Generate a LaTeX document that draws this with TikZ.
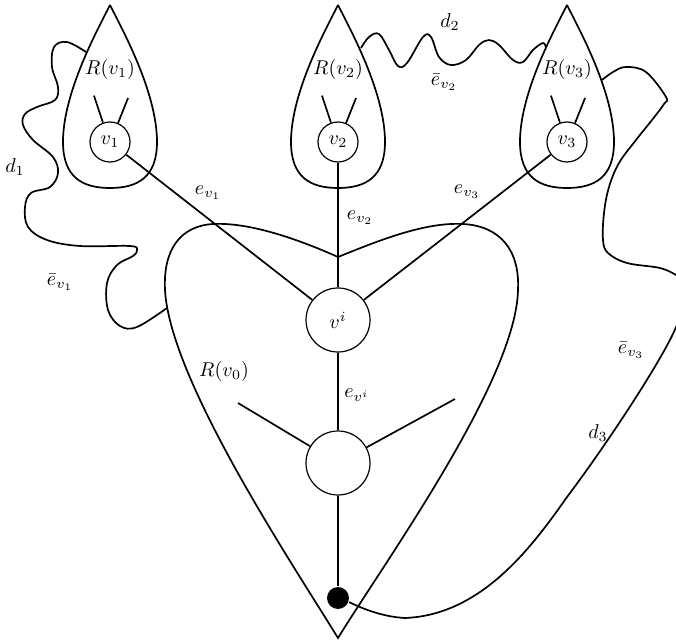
\documentclass[tikz,border=0pt]{standalone}
\usepackage{amsmath}
\usetikzlibrary{calc}

\tikzset{
  vert/.style={draw,circle,line width=0.6pt,inner sep=1pt,minimum size=20pt},
  bigvert/.style={draw,circle,line width=0.6pt,inner sep=1pt,minimum size=32pt},
  dot/.style={circle,fill=black,inner sep=0pt,minimum size=11pt},
  wiggle/.style={smooth,tension=0.6}
}

\begin{document}
\begin{tikzpicture}[x=0.5pt,y=-0.5pt,line width=0.85pt]
    \useasboundingbox (0,0) rectangle (676,642);
    \clip (0,0) rectangle (676,642);
    % the three drops R(v_1), R(v_2), R(v_3)
    \foreach \i/\x in {1/110,2/338,3/567}{
        \draw[shift={(\x,142)}] (0,-137) .. controls (-12,-113) and (-47,-50) .. (-47,0)
            .. controls (-47,35) and (-28,46) .. (0,46) .. controls (28,46) and (47,35) .. (47,0)
            .. controls (47,-50) and (12,-113) .. (0,-137);
        \node[vert] (v\i) at (\x,142) {$v_\i$};
        \draw (v\i.110) -- ++(-9,-27);
        \draw (v\i.67) -- ++(10,-25);
        \node at (\x,70) {$R(v_\i)$};
    }
    % R(v_0)
    \draw (338,257) .. controls (300,240) and (250,222) .. (213,224)
        .. controls (180,226) and (163,250) .. (165,290)
        .. controls (170,380) and (290,560) .. (338,638)
        .. controls (386,560) and (516,380) .. (518,290)
        .. controls (520,250) and (500,226) .. (463,224)
        .. controls (425,222) and (380,240) .. cycle;
    \node[bigvert] (vi) at (338,320) {$v^i$};
    \node[bigvert] (vlow) at (338,463) {};
    \node[dot] (root) at (338,598) {};
    \coordinate (lowL) at (238,403);
    \coordinate (lowR) at (455,399);
    \draw (v1) -- (vi);
    \draw (v2) -- (vi);
    \draw (v3) -- (vi);
    \draw (vi) -- (vlow);
    \draw (vlow) -- (root);
    \draw (lowL) -- (vlow);
    \draw (lowR) -- (vlow);
    % the paths d_1, d_2, d_3
    \draw plot[wiggle] coordinates {(86,52) (67,42) (54,47) (52,67) (58,87) (55,100) (37,107)
        (25,114) (23,125) (33,140) (53,157) (58,173) (50,187) (31,193) (25,207) (28,227)
        (47,240) (80,246) (130,246) (137,250) (133,256) (117,265) (107,283) (108,310)
        (120,326) (137,327) (167,308)};
    \draw plot[wiggle] coordinates {(361,48) (369,37) (379,34) (389,50) (398,66) (407,63)
        (423,37) (431,37) (439,57) (451,65) (466,60) (479,45) (489,40) (499,45) (513,60)
        (523,62) (533,50) (543,43) (546,48)};
    \draw plot[wiggle] coordinates {(602,80) (613,72) (626,67) (646,72) (666,97) (664,104)
        (652,120) (636,140) (619,163) (609,187) (604,213) (603,240) (608,253) (627,263)
        (660,268) (676,275)}
        .. controls (695,282) and (695,305) .. (676,327)
        .. controls (665,355) and (610,440) .. (567,497)
        .. controls (530,550) and (480,615) .. (405,618)
        .. controls (385,617) and (365,610) .. (root.-20);
    % labels
    \node at (208,193) {$e_{v_1}$};
    \node at (360,218) {$e_{v_2}$};
    \node at (467,192) {$e_{v_3}$};
    \node at (357,395) {$e_{v^i}$};
    \node at (224,372) {$R(v_0)$};
    \node at (15,167) {$d_1$};
    \node at (450,22) {$d_2$};
    \node at (598,433) {$d_3$};
    \node at (60,282) {$\bar{e}_{v_1}$};
    \node at (444,82) {$\bar{e}_{v_2}$};
    \node at (631,350) {$\bar{e}_{v_3}$};
\end{tikzpicture}
\end{document}
